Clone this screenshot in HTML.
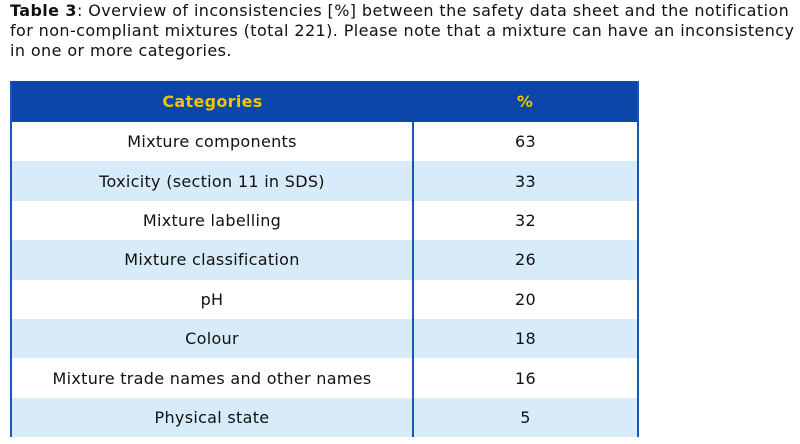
<!DOCTYPE html>
<html><head><meta charset="utf-8"><style>
body{margin:0;width:800px;height:444px;overflow:hidden;background:#fff;font-family:"DejaVu Sans",Verdana,sans-serif;color:#111;}
.t{position:absolute;left:10px;top:1px;font-size:16px;line-height:20px;width:795px;white-space:nowrap;letter-spacing:0.4px;}
table{position:absolute;left:10px;top:81px;border-collapse:collapse;border-left:2px solid #1a56b8;border-right:2px solid #1a56b8;font-size:16px;letter-spacing:0.3px;}
th{background:#0b46a8;color:#f5c400;height:41px;padding:0;font-weight:bold;}
td{height:39.4px;padding:0;text-align:center;}
tr:nth-child(odd) td{background:#d7ecf8;}
td:first-child{border-right:2px solid #1a56b8;width:400px;}
td:last-child{width:223px;}
</style></head><body>
<div class="t"><b>Table 3</b>: Overview of inconsistencies [%] between the safety data sheet and the notification<br>for non-compliant mixtures (total 221). Please note that a mixture can have an inconsistency<br>in one or more categories.</div>
<table>
<tr><th>Categories</th><th>%</th></tr>
<tr><td>Mixture components</td><td>63</td></tr>
<tr><td>Toxicity (section 11 in SDS)</td><td>33</td></tr>
<tr><td>Mixture labelling</td><td>32</td></tr>
<tr><td>Mixture classification</td><td>26</td></tr>
<tr><td>pH</td><td>20</td></tr>
<tr><td>Colour</td><td>18</td></tr>
<tr><td>Mixture trade names and other names</td><td>16</td></tr>
<tr><td>Physical state</td><td>5</td></tr>
</table>
</body></html>
